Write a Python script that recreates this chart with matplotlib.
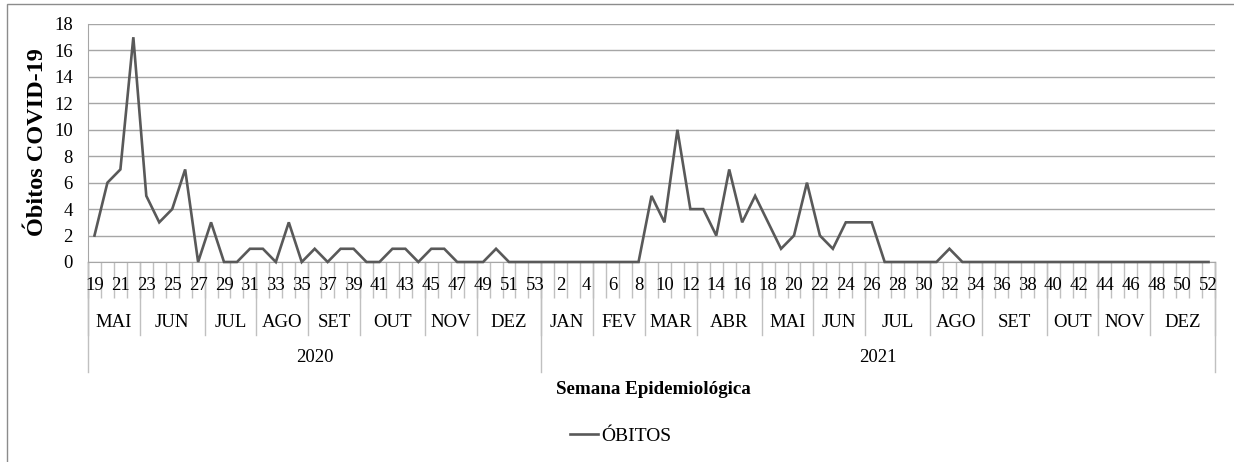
import numpy as np
import matplotlib
matplotlib.use("Agg")
import matplotlib.pyplot as plt
from matplotlib.lines import Line2D
from matplotlib.patches import Rectangle

plt.rcParams['font.family'] = ['Liberation Serif', 'DejaVu Serif']

# data
weeks_2020 = list(range(19, 54))
obitos_2020 = [2, 6, 7, 17, 5, 3, 4, 7, 0, 3, 0, 0, 1, 1, 0, 3, 0, 1, 0, 1,
               1, 0, 0, 1, 1, 0, 1, 1, 0, 0, 0, 1, 0, 0, 0]
weeks_2021 = list(range(1, 53))
obitos_2021 = [0, 0, 0, 0, 0, 0, 0, 0, 5, 3, 10, 4, 4, 2, 7, 3, 5, 3, 1, 2,
               6, 2, 1, 3, 3, 3, 0, 0, 0, 0, 0, 1, 0, 0, 0, 0, 0, 0, 0, 0,
               0, 0, 0, 0, 0, 0, 0, 0, 0, 0, 0, 0]
months_2020 = ['MAI', 'JUN', 'JUL', 'AGO', 'SET', 'OUT', 'NOV', 'DEZ']
month_weeks_2020 = [4, 5, 4, 4, 4, 5, 4, 5]
months_2021 = ['JAN', 'FEV', 'MAR', 'ABR', 'MAI', 'JUN', 'JUL', 'AGO',
               'SET', 'OUT', 'NOV', 'DEZ']
month_weeks_2021 = [4, 4, 4, 5, 4, 4, 5, 4, 5, 4, 4, 5]
years = ['2020', '2021']

week_labels = weeks_2020 + weeks_2021
values = obitos_2020 + obitos_2021
months = months_2020 + months_2021
month_sizes = month_weeks_2020 + month_weeks_2021
year_sizes = [len(weeks_2020), len(weeks_2021)]
n = len(values)
x = np.arange(n)

W, H = 1234, 462
fig = plt.figure(figsize=(W / 100, H / 100), dpi=100)
ax = fig.add_axes([88 / W, 1 - 262 / H, (1215 - 88) / W, (262 - 24) / H])

grid_c = '#a6a6a6'
tick_c = '#c0c0c0'
line_c = '#595959'
fs = 13.5

ax.plot(x, values, color=line_c, lw=1.9, solid_joinstyle='miter', label='ÓBITOS',
        clip_on=False, zorder=3)

ax.set_xlim(-0.5, n - 0.5)
ax.set_ylim(0, 18)
ax.set_yticks(np.arange(0, 19, 2))
ax.yaxis.grid(True, color=grid_c, lw=1.0)
ax.set_axisbelow(True)
for s in ['top', 'right']:
    ax.spines[s].set_visible(False)
ax.spines['left'].set_color(grid_c)
ax.spines['bottom'].set_color(grid_c)
ax.tick_params(axis='y', length=0, pad=11, labelsize=fs)
ax.set_yticklabels([str(v) for v in range(0, 19, 2)], fontsize=fs)

# week boundaries as minor ticks
ax.set_xticks([])
ax.set_xticks(np.arange(-0.5, n, 1), minor=True)
ax.tick_params(axis='x', which='minor', length=36 * 0.72, color=tick_c, width=1.0)

trans = ax.get_xaxis_transform()
ax_h = 238.0

def ypix(p):
    return -(p - 262) / ax_h

# week labels (every other one)
for i in range(0, n, 2):
    ax.text(x[i], ypix(285.5), str(week_labels[i]), ha='center', va='center',
            fontsize=fs, transform=trans)

# month row
b = 0
edges = [0]
for m, sz in zip(months, month_sizes):
    ax.text(b + sz / 2 - 0.5, ypix(322.5), m, ha='center', va='center',
            fontsize=fs, transform=trans)
    b += sz
    edges.append(b)
for e in edges:
    ax.plot([e - 0.5, e - 0.5], [0, ypix(335)], color=tick_c, lw=1.0,
            transform=trans, clip_on=False)

# year row
b = 0
for yr, sz in zip(years, year_sizes):
    ax.text(b + sz / 2 - 0.5, ypix(357), yr, ha='center', va='center',
            fontsize=fs, transform=trans)
    ax.plot([b - 0.5, b - 0.5], [0, ypix(372)], color=tick_c, lw=1.0,
            transform=trans, clip_on=False)
    b += sz
ax.plot([b - 0.5, b - 0.5], [0, ypix(372)], color=tick_c, lw=1.0,
        transform=trans, clip_on=False)

fig.text(653 / W, 1 - 390 / H, 'Semana Epidemiológica', ha='center', va='center',
         fontsize=13.7, fontweight='bold')
fig.text(38 / W, 1 - 142 / H, 'Óbitos COVID-19', ha='center', va='center',
         rotation=90, fontsize=17.5, fontweight='bold')

fig.legend(handles=[Line2D([], [], color=line_c, lw=1.9)], labels=['ÓBITOS'],
           loc='center', bbox_to_anchor=(621 / W, 1 - 436 / H), frameon=False,
           fontsize=14, handlelength=1.4, handletextpad=0.2)

# chart outline (only top and left edges fall inside the picture)
fig.patches.append(Rectangle((7 / W, -0.1), 1.2, 1.1 - 4 / H,
                             transform=fig.transFigure, fill=False,
                             edgecolor='#8c8c8c', lw=1.0))

fig.savefig('out.png', dpi=100)
